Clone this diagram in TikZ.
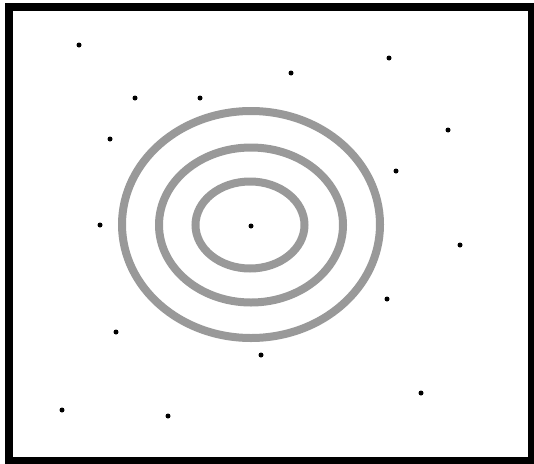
\documentclass[tikz,border=0pt]{standalone}
\begin{document}
\begin{tikzpicture}[x=1pt,y=-1pt,
  dotnode/.style={circle,fill=black,inner sep=0pt,minimum size=5pt},
  ring/.style={draw=black!40,line width=8pt}]
\useasboundingbox (0,0) rectangle (534,463);
\fill[white] (0,0) rectangle (534,463);
\begin{scope}
\clip (0,0) rectangle (534,463);
\draw[line width=8pt] (8.5,6.5) rectangle (532,460.5);
\end{scope}
\draw[ring] (251,224.5) ellipse [x radius=129, y radius=113.5];
\draw[ring] (251,225) ellipse [x radius=92, y radius=77.5];
\draw[ring] (250,225) ellipse [x radius=54.5, y radius=43.5];
\foreach \n/\p in {a/{79,45},b/{389,58},c1/{291,73},d/{135,98},e/{200,98},f/{448,130},g/{110,139},h/{396,171},i/{100,225},j/{251,226},k/{460,245},l/{387,299},m/{116,332},n/{261,355},o/{421,393},p/{62,410},q/{168,416}}
  \node[dotnode] (\n) at (\p) {};
\end{tikzpicture}
\end{document}
